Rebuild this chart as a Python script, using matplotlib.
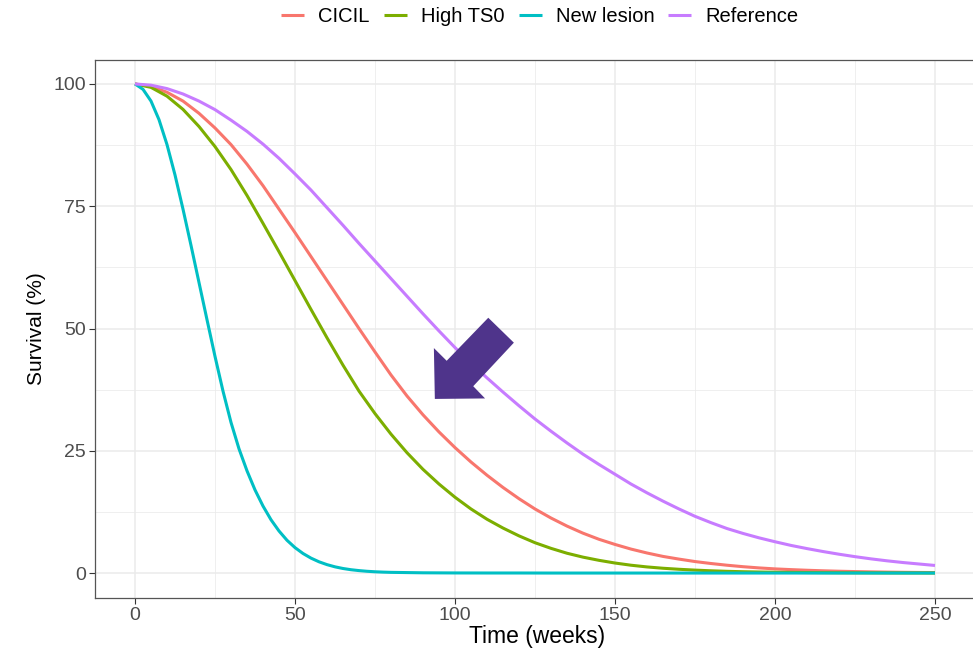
import numpy as np
import matplotlib
matplotlib.use("Agg")
import matplotlib.pyplot as plt
from matplotlib.patches import Polygon
from matplotlib.ticker import MultipleLocator

plt.rcParams['font.family'] = ['Liberation Sans', 'DejaVu Sans']

# weeks for CICIL / High TS0 / Reference
weeks = list(range(0, 255, 5))

cicil = [100, 99.5, 98.3, 96.5, 94.0, 91.0, 87.6, 83.6, 79.2, 74.4,
         69.6, 64.7, 59.8, 54.9, 50.0, 45.2, 40.5, 36.2, 32.35, 28.85,
         25.65, 22.7, 20.0, 17.5, 15.2, 13.1, 11.25, 9.6, 8.15, 6.9,
         5.85, 4.9, 4.1, 3.4, 2.85, 2.35, 1.95, 1.6, 1.3, 1.05,
         0.85, 0.7, 0.57, 0.46, 0.37, 0.3, 0.24, 0.19, 0.15, 0.12, 0.1]

high_ts0 = [100, 99.3, 97.5, 94.8, 91.3, 87.2, 82.5, 77.2, 71.5, 65.7,
            59.8, 53.9, 48.1, 42.5, 37.2, 32.6, 28.4, 24.6, 21.2, 18.2,
            15.5, 13.1, 11.0, 9.2, 7.6, 6.2, 5.05, 4.05, 3.25, 2.6,
            2.05, 1.6, 1.25, 0.98, 0.77, 0.6, 0.46, 0.35, 0.27, 0.21,
            0.16, 0.13, 0.1, 0.08, 0.06, 0.05, 0.04, 0.03, 0.02, 0.02, 0.01]

reference = [100, 99.75, 99.05, 97.95, 96.5, 94.75, 92.6, 90.3, 87.7, 84.8,
             81.6, 78.3, 74.7, 71.1, 67.4, 63.8, 60.2, 56.6, 53.0, 49.5,
             46.1, 42.9, 39.9, 37.0, 34.2, 31.5, 29.0, 26.6, 24.3, 22.2,
             20.2, 18.2, 16.4, 14.7, 13.1, 11.6, 10.3, 9.1, 8.1, 7.2,
             6.4, 5.65, 5.0, 4.4, 3.85, 3.35, 2.9, 2.5, 2.15, 1.85, 1.55]

# new lesion drops fast, so a finer grid early on
weeks_nl = [i * 2.5 for i in range(33)] + list(range(90, 260, 10))
new_lesion = [100, 98.9, 96.5, 92.7, 87.6, 81.4, 74.4, 67.0, 59.4, 51.8,
              44.3, 37.2, 30.8, 25.4, 20.9, 17.0, 13.7, 10.9, 8.6, 6.7,
              5.2, 4.0, 3.05, 2.3, 1.72, 1.27, 0.93, 0.68, 0.5, 0.36,
              0.26, 0.19, 0.14,
              0.05, 0.02, 0.01, 0.01, 0, 0, 0, 0, 0, 0, 0, 0, 0, 0, 0, 0, 0]

# arrow annotation outline (data units)
arrow_x = [93.7, 109.4, 105.7, 118.4, 110.4, 97.4, 93.4]
arrow_y = [35.6, 35.7, 38.2, 47.1, 52.2, 43.4, 46.0]

fig = plt.figure(figsize=(9.73, 6.53), dpi=100)
ax = fig.add_axes([95 / 973, 55.5 / 653, 885 / 973, 538 / 653])

series = [("CICIL", weeks, cicil, "#F8766D"),
          ("High TS0", weeks, high_ts0, "#7CAE00"),
          ("New lesion", weeks_nl, new_lesion, "#00BFC4"),
          ("Reference", weeks, reference, "#C77CFF")]
for name, xs, ys, col in series:
    ax.plot(xs, ys, color=col, lw=2.2, label=name, solid_capstyle='butt', zorder=3)

ax.add_patch(Polygon(list(zip(arrow_x, arrow_y)), closed=True,
                     facecolor="#4F348B", edgecolor="none", zorder=5))

ax.set_xlim(-12.5, 262.5 + 275 * 5 / 880)
ax.set_ylim(-5, 105)
ax.xaxis.set_major_locator(MultipleLocator(50))
ax.xaxis.set_minor_locator(MultipleLocator(25))
ax.yaxis.set_major_locator(MultipleLocator(25))
ax.yaxis.set_minor_locator(MultipleLocator(12.5))
ax.grid(which='major', color='#EBEBEB', lw=1.1)
ax.grid(which='minor', color='#EBEBEB', lw=0.55)
ax.set_axisbelow(True)
ax.tick_params(which='major', length=4, width=0.8, color='#333333',
               labelsize=14, labelcolor='#4D4D4D', pad=2.5)
ax.tick_params(which='minor', length=0)
for s in ax.spines.values():
    s.set_color('#555555')
    s.set_linewidth(0.9)

ax.set_xlabel("Time (weeks)", fontsize=16.5, labelpad=1)
ax.set_ylabel("Survival (%)", fontsize=15, labelpad=5)

fig.legend(loc='center', bbox_to_anchor=(540 / 973, 1 - 17 / 653), ncol=4,
           frameon=False, fontsize=14.5, handlelength=1.14, handletextpad=0.7,
           columnspacing=0.7)

fig.savefig("out.png", dpi=100)
